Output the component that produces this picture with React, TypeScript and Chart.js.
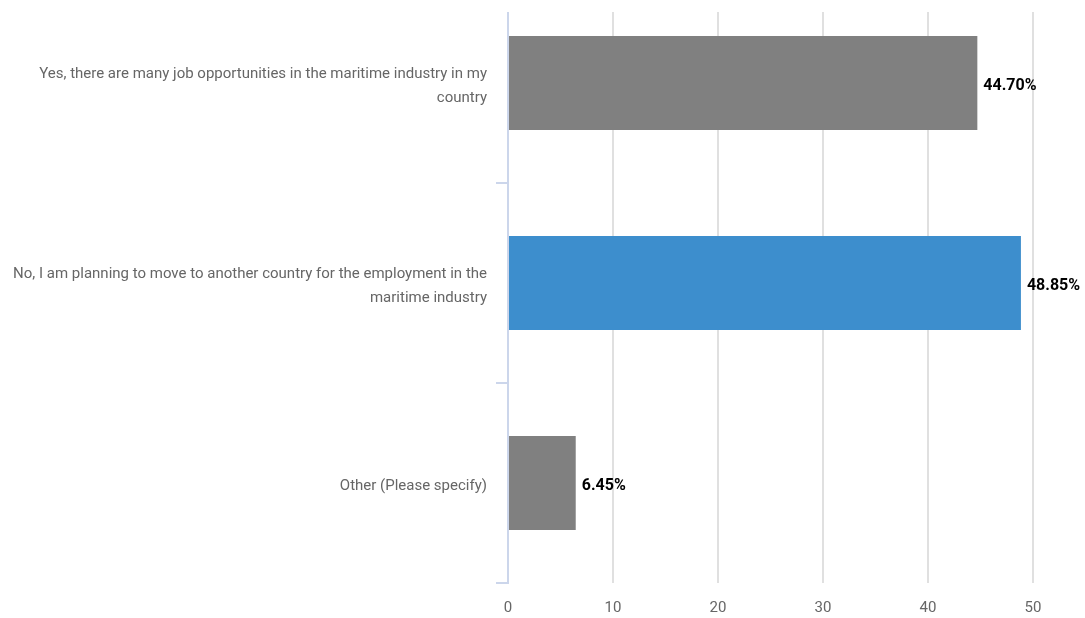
import React, { useEffect, useRef } from "react";
import { Chart, registerables } from "chart.js";

Chart.register(...registerables);

const categories: (string | string[])[] = [
  ["Yes, there are many job opportunities in the maritime industry in my", "country"],
  ["No, I am planning to move to another country for the employment in the", "maritime industry"],
  "Other (Please specify)",
];
const values: number[] = [44.7, 48.85, 6.45];
const barColors: string[] = ["#808080", "#3d8ecd", "#808080"];
const xTicks: number[] = [0, 10, 20, 30, 40, 50];

const FONT = "Roboto, 'Liberation Sans', Arial, sans-serif";

const valueLabels = {
  id: "valueLabels",
  afterDatasetsDraw(chart: any) {
    const ctx = chart.ctx;
    const meta = chart.getDatasetMeta(0);
    ctx.save();
    ctx.font = `bold 16px ${FONT}`;
    ctx.fillStyle = "#000000";
    ctx.textAlign = "left";
    ctx.textBaseline = "middle";
    meta.data.forEach((bar: any, i: number) => {
      ctx.fillText(values[i].toFixed(2) + "%", bar.x + 6, bar.y + 3);
    });
    ctx.restore();
  },
};

export default function App() {
  const ref = useRef<HTMLCanvasElement | null>(null);
  useEffect(() => {
    if (!ref.current) return;
    const chart = new Chart(ref.current, {
      type: "bar",
      data: {
        labels: categories,
        datasets: [
          {
            data: values,
            backgroundColor: barColors,
            borderWidth: 0,
            barPercentage: 0.47,
            categoryPercentage: 1,
          },
        ],
      },
      options: {
        indexAxis: "y",
        animation: false,
        responsive: false,
        maintainAspectRatio: false,
        events: [],
        layout: { padding: { left: 0, right: 52, top: 0, bottom: 0 } },
        plugins: {
          legend: { display: false },
          tooltip: { enabled: false },
          title: { display: false },
        },
        scales: {
          x: {
            type: "linear",
            min: 0,
            max: 50,
            afterBuildTicks: (scale: any) => {
              scale.ticks = xTicks.map((v) => ({ value: v }));
            },
            afterFit: (scale: any) => {
              scale.height = 35;
            },
            grid: {
              drawTicks: false,
              color: (c: any) => (c.tick && c.tick.value === 0 ? "rgba(0,0,0,0)" : "#e0e0e0"),
              lineWidth: 2,
            },
            border: { display: false },
            ticks: {
              padding: 16,
              color: "#666666",
              font: { family: FONT, size: 15 },
            },
          },
          y: {
            type: "category",
            afterFit: (scale: any) => {
              scale.width = 508;
            },
            grid: {
              drawOnChartArea: false,
              drawTicks: true,
              tickLength: 12,
              color: "#ccd6eb",
              lineWidth: 2,
            },
            border: { display: true, color: "#ccd6eb", width: 2 },
            ticks: {
              padding: 9,
              labelOffset: 3,
              color: "#666666",
              font: { family: FONT, size: 15, lineHeight: 1.6 },
            },
          },
        },
      },
      plugins: [valueLabels],
    } as any);
    return () => chart.destroy();
  }, []);

  return (
    <div
      style={{
        position: "absolute",
        left: 0,
        top: 12,
        width: 1085,
        height: 606,
        overflow: "hidden",
        background: "#ffffff",
      }}
    >
      <canvas
        ref={ref}
        width={1085}
        height={656}
        style={{ position: "absolute", left: 0, top: -50, width: 1085, height: 656 }}
      />
    </div>
  );
}
